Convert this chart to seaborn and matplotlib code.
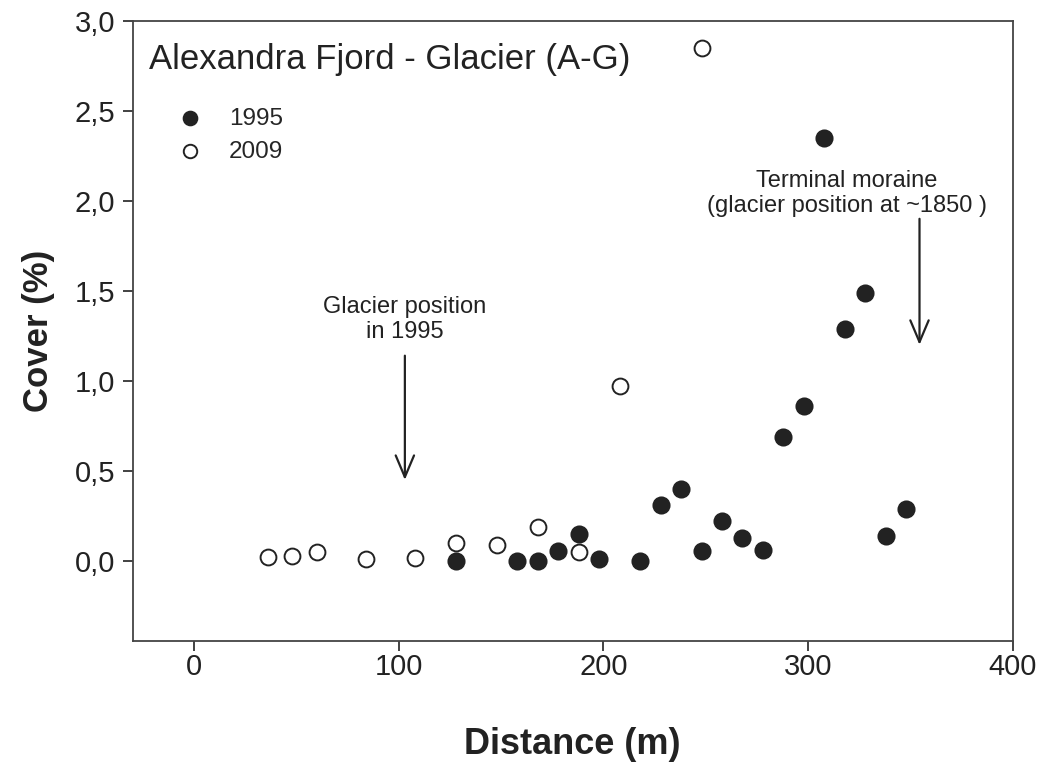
import matplotlib
matplotlib.use("Agg")
import matplotlib.pyplot as plt
import seaborn as sns
import pandas as pd

# 1995 survey (filled)
dist_1995 = [128, 158, 168, 178, 188, 198, 218, 228, 238, 248, 258, 268, 278, 288, 298, 308, 318, 328, 338, 348]
cover_1995 = [0.00, 0.00, 0.00, 0.055, 0.15, 0.01, 0.00, 0.31, 0.40, 0.055, 0.22, 0.13, 0.06, 0.69, 0.86, 2.35, 1.29, 1.49, 0.14, 0.29]
# 2009 survey (open)
dist_2009 = [36, 48, 60, 84, 108, 128, 148, 168, 188, 208, 248]
cover_2009 = [0.02, 0.025, 0.05, 0.01, 0.015, 0.10, 0.09, 0.19, 0.05, 0.97, 2.85]

x_ticks = [0, 100, 200, 300, 400]
y_ticks = [0.0, 0.5, 1.0, 1.5, 2.0, 2.5, 3.0]
y_tick_labels = ["0,0", "0,5", "1,0", "1,5", "2,0", "2,5", "3,0"]

df = pd.concat([
    pd.DataFrame({"Distance": dist_1995, "Cover": cover_1995, "Year": "1995"}),
    pd.DataFrame({"Distance": dist_2009, "Cover": cover_2009, "Year": "2009"}),
])

sns.set_theme(style="ticks")
plt.rcParams["font.family"] = ["Liberation Sans", "DejaVu Sans"]

fig = plt.figure(figsize=(10.45, 7.66), dpi=100)
ax = fig.add_axes([0.127, 0.163, 0.842, 0.81])

ink = "#222222"
d95 = df[df.Year == "1995"]
d09 = df[df.Year == "2009"]
sns.scatterplot(data=d95, x="Distance", y="Cover", ax=ax, s=140, color=ink,
                edgecolor=ink, linewidth=1.2, label="1995", zorder=3)
sns.scatterplot(data=d09, x="Distance", y="Cover", ax=ax, s=130, facecolor="white",
                edgecolor=ink, linewidth=1.4, label="2009", zorder=3)

ax.set_xlim(-30, 400)
ax.set_ylim(-0.445, 3.0)
ax.set_xticks(x_ticks)
ax.set_xticklabels([str(v) for v in x_ticks])
ax.set_yticks(y_ticks)
ax.set_yticklabels(y_tick_labels)
ax.tick_params(axis="both", direction="out", length=7.5, width=1.2, labelsize=21,
               colors=ink)
ax.tick_params(axis="x", pad=1)
ax.tick_params(axis="y", pad=5)
for sp in ax.spines.values():
    sp.set_visible(True)
    sp.set_color("#444444")
    sp.set_linewidth(1.3)

ax.set_xlabel("Distance (m)", fontsize=26, fontweight="bold", color=ink, labelpad=33)
ax.set_ylabel("Cover (%)", fontsize=25, fontweight="bold", color=ink, labelpad=14)

ax.text(0.019, 0.938, "Alexandra Fjord - Glacier (A-G)", transform=ax.transAxes,
        fontsize=25, color=ink, ha="left", va="center")

leg = ax.legend(loc="upper left", bbox_to_anchor=(0.013, 0.895), frameon=False,
                fontsize=17.5, handletextpad=0.6, labelspacing=0.45, markerscale=0.85)

arrow = dict(arrowstyle="->,head_length=1.3,head_width=0.55", color=ink, lw=1.6,
             shrinkA=0, shrinkB=0)
ax.annotate("", xy=(103, 0.45), xytext=(103, 1.14), arrowprops=arrow)
ax.text(103, 1.34, "Glacier position\nin 1995", ha="center", va="center",
        fontsize=17, color=ink, linespacing=1.2)
ax.annotate("", xy=(354.5, 1.2), xytext=(354.5, 1.9), arrowprops=arrow)
ax.text(319, 2.04, "Terminal moraine\n(glacier position at ~1850 )", ha="center",
        va="center", fontsize=17, color=ink, linespacing=1.2)

fig.savefig("out.png", dpi=100, facecolor="white")
